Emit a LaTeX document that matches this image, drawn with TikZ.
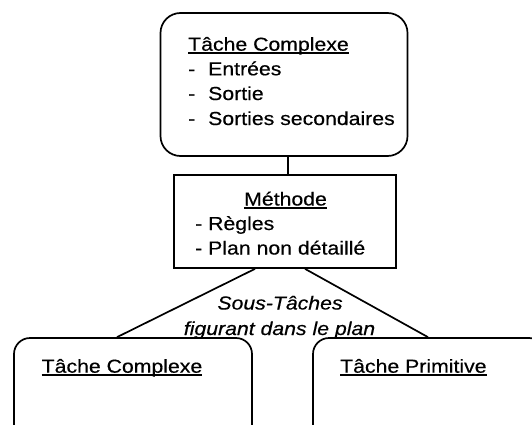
\documentclass[tikz,border=0pt]{standalone}
\usepackage{fontspec}
\setmainfont[FakeStretch=1.13,FakeBold=0.4]{Liberation Sans}
\newcommand\ulx[1]{\setbox0\hbox{#1}\rlap{\vrule height -1.2pt depth 3.0pt width \wd0}\box0}
\tikzset{
  txt/.style={inner sep=0pt, anchor=base west, font=\fontsize{18.8}{25}\selectfont},
  itxt/.style={inner sep=0pt, anchor=base, font=\fontsize{18.8}{25}\selectfont\itshape},
  boxr/.style={draw, line width=1.7pt, inner sep=0pt},
  conn/.style={draw, line width=1.7pt},
}
\begin{document}
\begin{tikzpicture}[x=1pt,y=-1pt]
\useasboundingbox (0,0) rectangle (532,425);
\clip (0,0) rectangle (532,425);
\fill[white] (0,0) rectangle (532,425);
% boxes
\node[boxr, rounded corners=20pt, minimum width=247pt, minimum height=143pt] (top) at (284,84.5) {};
\node[boxr, minimum width=222pt, minimum height=93pt] (meth) at (285,221.5) {};
\node[boxr, rounded corners=16pt, minimum width=238pt, minimum height=112pt] (lbox) at (133,394) {};
\node[boxr, rounded corners=16pt, minimum width=232pt, minimum height=112pt] (rbox) at (429,394) {};
% top box text
\node[txt] (t1) at (188,50.7) {\ulx{Tâche Complexe}};
\node[txt] (t2) at (188,75.3) {\makebox[20pt][l]{-}Entrées};
\node[txt] (t3) at (188,100) {\makebox[20pt][l]{-}Sortie};
\node[txt] (t4) at (188,125) {\makebox[20pt][l]{-}Sorties secondaires};
% method text
\node[txt] (m1) at (244,205.5) {\ulx{Méthode}};
\node[txt] (m2) at (195,230) {- Règles};
\node[txt] (m3) at (195,254.5) {- Plan non détaillé};
% bottom boxes text
\node[txt] (l1) at (41.5,372.7) {\ulx{Tâche Complexe}};
\node[txt] (r1) at (340,372.7) {\ulx{Tâche Primitive}};
% label
\node[itxt] (s1) at (280,309.5) {Sous-Tâches};
\node[itxt] (s2) at (279.5,335) {figurant dans le plan};
% connectors
\draw[conn] ([xshift=4pt]top.south) -- ([xshift=3pt]meth.north);
\draw[conn] ([xshift=-30pt]meth.south) -- ([xshift=-16pt]lbox.north);
\draw[conn] ([xshift=20pt]meth.south) -- ([xshift=-1pt]rbox.north);
\end{tikzpicture}
\end{document}
